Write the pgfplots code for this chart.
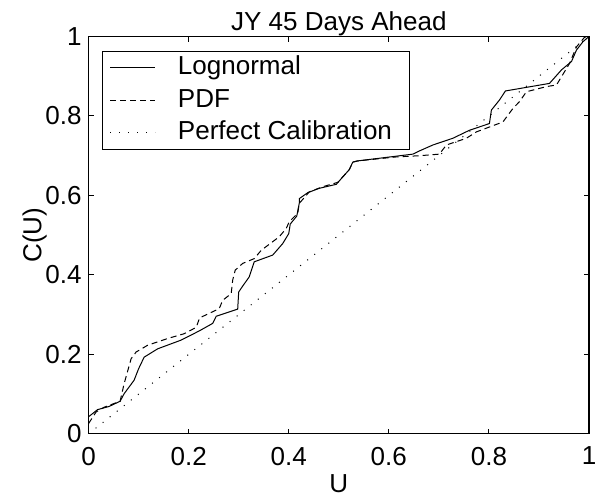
\documentclass[border=0pt]{standalone}
\usepackage{pgfplots}
\pgfplotsset{compat=1.18}
\usepackage{fontspec}
\setmainfont{Liberation Sans}
\newcommand{\ff}{\fontsize{13}{15}\selectfont}
\begin{document}
\begin{tikzpicture}
\begin{axis}[
  scale only axis,
  width=250pt, height=198.5pt,
  xmin=0, xmax=1, ymin=0, ymax=1,
  xtick={0,0.2,0.4,0.6,0.8,1},
  ytick={0,0.2,0.4,0.6,0.8,1},
  xticklabels={0,0.2,0.4,0.6,0.8,1},
  yticklabels={0,0.2,0.4,0.6,0.8,1},
  tick align=inside,
  major tick length=2.5pt,
  axis line style={line width=0.6pt},
  every tick/.style={black, line width=0.5pt},
  ticklabel style={font=\ff},
  xticklabel style={yshift=-3pt},
  /pgf/number format/assume math mode=true,
  xlabel={U}, ylabel={C(U)},
  label style={font=\ff},
  xlabel style={at={(axis description cs:0.5,-0.126)}, anchor=center},
  ylabel style={at={(axis description cs:-0.108,0.5)}, anchor=center},
  title={JY 45 Days Ahead},
  every axis title/.style={font=\ff, at={(axis description cs:0.5,1)}, anchor=base, yshift=2.9pt},
  legend style={font=\ff, at={(axis description cs:0.0264,0.964)}, anchor=north west,
    draw=black, line width=0.6pt, inner xsep=3.75pt, inner ysep=0.6pt,
    row sep=1pt, column sep=0pt,
    nodes={inner xsep=0pt, inner ysep=1.5pt, text height=9.5pt, text depth=2.7pt}},
  legend cell align=left,
  legend image code/.code={\draw[#1, line width=0.5pt] (0pt,0pt) -- (22.5pt,0pt); \path[draw=none, fill=none] (0pt,0pt) -- (33.75pt,0pt);},
]
\addplot[black, line width=0.5pt] coordinates {
(0,0.043) (0.018,0.061) (0.041,0.069) (0.063,0.082) (0.071,0.101) (0.091,0.135)
(0.100,0.164) (0.111,0.193) (0.138,0.214) (0.185,0.236) (0.221,0.259) (0.248,0.278)
(0.255,0.296) (0.298,0.314) (0.300,0.357) (0.308,0.372) (0.321,0.395) (0.331,0.433)
(0.368,0.450) (0.388,0.479) (0.400,0.504) (0.403,0.528) (0.416,0.548) (0.421,0.580)
(0.421,0.592) (0.438,0.607) (0.461,0.618) (0.495,0.628) (0.511,0.651) (0.521,0.665)
(0.528,0.684) (0.538,0.687) (0.648,0.704) (0.661,0.712) (0.688,0.727) (0.728,0.744)
(0.761,0.764) (0.801,0.781) (0.805,0.815) (0.821,0.840) (0.833,0.863) (0.921,0.882)
(0.945,0.916) (0.965,0.937) (0.975,0.966) (0.988,0.987) (1.0,1.0)
};
\addlegendentry{Lognormal}
\addplot[black, line width=0.5pt, dash pattern=on 3pt off 2pt] coordinates {
(0,0.026) (0.015,0.055) (0.031,0.067) (0.063,0.082) (0.071,0.126) (0.085,0.189)
(0.095,0.206) (0.118,0.223) (0.158,0.240) (0.191,0.252) (0.215,0.268) (0.222,0.292)
(0.261,0.315) (0.268,0.336) (0.285,0.353) (0.288,0.387) (0.293,0.412) (0.308,0.429)
(0.331,0.441) (0.345,0.462) (0.381,0.496) (0.395,0.517) (0.401,0.534) (0.418,0.555)
(0.421,0.580) (0.441,0.609) (0.468,0.622) (0.498,0.633) (0.511,0.651) (0.521,0.665)
(0.528,0.684) (0.538,0.687) (0.615,0.697) (0.661,0.700) (0.701,0.704) (0.715,0.727)
(0.755,0.744) (0.775,0.760) (0.828,0.785) (0.848,0.819) (0.861,0.836) (0.875,0.861)
(0.915,0.874) (0.935,0.878) (0.961,0.932) (0.975,0.974) (0.991,0.998) (1.0,1.0)
};
\addlegendentry{PDF}
\addplot[black, line width=0.5pt, dash pattern=on 0.5pt off 4pt] coordinates {(0,0) (1,1)};
\addlegendentry{Perfect Calibration\kern5pt\null}
\coordinate (sw) at (rel axis cs:0,0);
\coordinate (ne) at (rel axis cs:1,1);
\end{axis}
\pgfresetboundingbox
\path[use as bounding box] ([xshift=-44.25pt,yshift=-34.75pt]sw) rectangle ([xshift=3pt,yshift=18.25pt]ne);
\end{tikzpicture}
\end{document}
